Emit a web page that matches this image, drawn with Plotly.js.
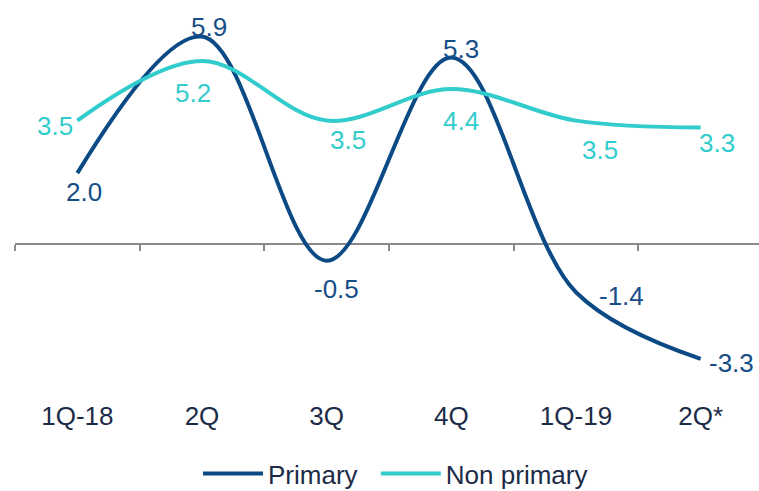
<!DOCTYPE html>
<html>
<head>
<meta charset="utf-8">
<script src="https://cdn.plot.ly/plotly-3.0.1.min.js"></script>
<style>
  html, body { margin: 0; padding: 0; background: #ffffff; }
  #chart { width: 759px; height: 491px; }
</style>
</head>
<body>
<div id="chart"></div>
<script>
// Quarterly growth, % — primary vs non-primary sectors
const quarters = ['1Q-18', '2Q', '3Q', '4Q', '1Q-19', '2Q*'];
const primary = [2.0, 5.9, -0.5, 5.3, -1.4, -3.3];
const nonPrimary = [3.5, 5.2, 3.5, 4.4, 3.5, 3.3];

// Label offsets (px) from each point
const primaryShiftX = [7, 7, 10, 10, 46, 31];
const primaryShiftY = [-19, 10, -28, 9, -4, -4];
const nonPrimaryShiftX = [-22, -9, 21, 10, 24, 16];
const nonPrimaryShiftY = [-5, -32, -19, -32, -29, -15];

const navy = '#0c4a86';
const navyText = '#174e87';
const teal = '#33cccc';
const axisGrey = '#8a8a8a';
const labelDark = '#1c2b48';
const fontFamily = 'Liberation Sans, Arial, sans-serif';
const textSize = 26;

const yMin = -4.476, yMax = 6.572;
const xRange = [-0.5, 5.468];

const traces = [
  {
    x: quarters, y: primary, name: 'Primary',
    type: 'scatter', mode: 'lines', legend: 'legend',
    line: { color: navy, width: 4, shape: 'spline', smoothing: 1 },
    hoverinfo: 'skip'
  },
  {
    x: quarters, y: nonPrimary, name: 'Non primary',
    type: 'scatter', mode: 'lines', xaxis: 'x2', legend: 'legend2',
    line: { color: teal, width: 4, shape: 'spline', smoothing: 1 },
    hoverinfo: 'skip'
  }
];

const annotations = [];
quarters.forEach((q, i) => {
  annotations.push({
    x: q, y: primary[i], xref: 'x', yref: 'y',
    text: primary[i].toFixed(1), showarrow: false,
    xanchor: 'center', yanchor: 'middle',
    xshift: primaryShiftX[i], yshift: primaryShiftY[i],
    font: { family: fontFamily, size: textSize, color: navyText }
  });
  annotations.push({
    x: q, y: nonPrimary[i], xref: 'x', yref: 'y',
    text: nonPrimary[i].toFixed(1), showarrow: false,
    xanchor: 'center', yanchor: 'middle',
    xshift: nonPrimaryShiftX[i], yshift: nonPrimaryShiftY[i],
    font: { family: fontFamily, size: textSize, color: teal }
  });
});

const legendStyle = {
  orientation: 'h', xanchor: 'left',
  y: -0.19, yanchor: 'middle', itemwidth: 60,
  font: { size: textSize, color: labelDark },
  bgcolor: 'rgba(0,0,0,0)'
};

const layout = {
  width: 759, height: 491,
  margin: { l: 15, r: 0, t: 13, b: 91, autoexpand: false },
  paper_bgcolor: '#ffffff', plot_bgcolor: '#ffffff',
  font: { family: fontFamily, size: textSize, color: labelDark },
  showlegend: true,
  legend: Object.assign({ x: 0.246 }, legendStyle),
  legend2: Object.assign({ x: 0.485 }, legendStyle),
  xaxis: {
    type: 'category', categoryarray: quarters, range: xRange,
    showline: false, showgrid: false, zeroline: false,
    ticks: '', ticklabelstandoff: -2,
    tickfont: { size: textSize, color: labelDark },
    fixedrange: true
  },
  // zero baseline with boundary ticks
  xaxis2: {
    type: 'category', categoryarray: quarters, range: xRange,
    overlaying: 'x', anchor: 'free',
    position: (0 - yMin) / (yMax - yMin),
    showline: true, linecolor: axisGrey, linewidth: 1.8,
    ticks: 'outside', tickson: 'boundaries', ticklen: 6,
    tickcolor: axisGrey, tickwidth: 1.8,
    showticklabels: false, showgrid: false, zeroline: false,
    layer: 'below traces', fixedrange: true
  },
  yaxis: {
    range: [yMin, yMax], visible: false,
    showgrid: false, zeroline: false, fixedrange: true
  },
  annotations: annotations
};

Plotly.newPlot('chart', traces, layout, { displayModeBar: false, staticPlot: true });
</script>
</body>
</html>
